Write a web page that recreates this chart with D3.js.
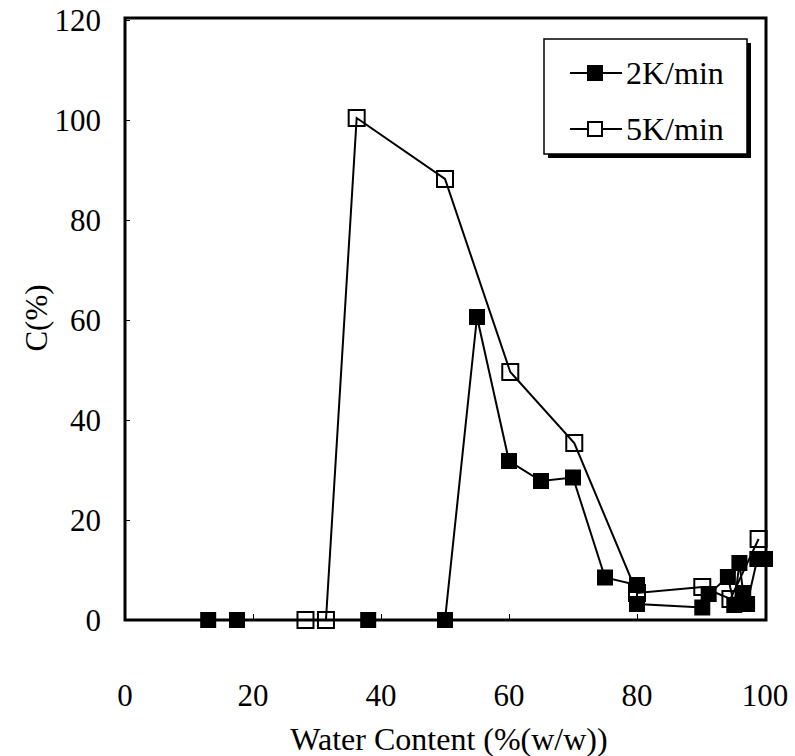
<!DOCTYPE html>
<html>
<head>
<meta charset="utf-8">
<script src="https://cdn.jsdelivr.net/npm/d3@7"></script>
<style>
  body { margin: 0; background: #fff; }
</style>
</head>
<body>
<div id="chart"></div>
<script>
// values
var rate2K = [[13, 0], [17.5, 0], [38, 0], [50, 0], [55, 60.6], [60, 31.8], [65, 27.8], [70, 28.5],
  [75, 8.5], [80, 7.0], [80, 3.2], [90.2, 2.5], [91.2, 5.2], [94.2, 8.6], [95.2, 3.0],
  [96, 11.4], [96.6, 5.4], [97.2, 3.2], [98.8, 12.2], [100, 12.2]];
var rate5K = [[28.2, 0], [31.4, 0], [36.2, 100.4], [50, 88.2], [60.2, 49.6], [70.2, 35.4],
  [80, 5.4], [90.2, 6.6], [94.6, 4.2], [99, 16.2]];
var xTicks = [0, 20, 40, 60, 80, 100];
var yTicks = [0, 20, 40, 60, 80, 100, 120];
var seriesNames = ["2K/min", "5K/min"];

var W = 795, H = 756;
var serif = "'Liberation Serif', 'Times New Roman', Times, serif";
var svg = d3.select("#chart").append("svg").attr("width", W).attr("height", H)
  .attr("font-family", serif);

var x = d3.scaleLinear().domain([0, 100]).range([125, 765]);
var y = d3.scaleLinear().domain([0, 120]).range([620, 20]);

// inner tick marks
svg.append("g").attr("transform", "translate(125,0)")
  .call(d3.axisRight(y).tickValues(yTicks).tickSize(5).tickFormat(""))
  .call(g => g.select(".domain").remove());
svg.append("g").attr("transform", "translate(0,620)")
  .call(d3.axisTop(x).tickValues(xTicks).tickSize(6).tickFormat(""))
  .call(g => g.select(".domain").remove());

// tick labels
svg.append("g").selectAll("text").data(yTicks).join("text")
  .attr("x", 101).attr("y", d => y(d)).attr("dy", "0.35em")
  .attr("text-anchor", "end").style("font-size", "31px").text(d => d);
svg.append("g").selectAll("text").data(xTicks).join("text")
  .attr("x", d => x(d)).attr("y", 695).attr("dy", "0.35em")
  .attr("text-anchor", "middle").style("font-size", "31px").text(d => d);

svg.append("text").attr("transform", "translate(36,318) rotate(-90)")
  .attr("text-anchor", "middle").attr("dy", "0.35em").style("font-size", "31px").text("C(%)");
svg.append("text").attr("x", 449).attr("y", 739).attr("dy", "0.35em")
  .attr("text-anchor", "middle").style("font-size", "32px").text("Water Content (%(w/w))");

var line = d3.line().x(d => x(d[0])).y(d => y(d[1]));

svg.append("path").datum(rate5K).attr("d", line)
  .attr("fill", "none").attr("stroke", "#000").attr("stroke-width", 2);
svg.append("path").datum(rate2K).attr("d", line)
  .attr("fill", "none").attr("stroke", "#000").attr("stroke-width", 2);

var s = 16;
svg.append("g").selectAll("rect").data(rate5K).join("rect")
  .attr("x", d => x(d[0]) - s / 2).attr("y", d => y(d[1]) - s / 2)
  .attr("width", s).attr("height", s)
  .attr("fill", "none").attr("stroke", "#000").attr("stroke-width", 2);
svg.append("g").selectAll("rect").data(rate2K).join("rect")
  .attr("x", d => x(d[0]) - s / 2).attr("y", d => y(d[1]) - s / 2)
  .attr("width", s).attr("height", s).attr("fill", "#000");

// frame
svg.append("rect").attr("x", 125).attr("y", 18).attr("width", 641).attr("height", 602)
  .attr("fill", "none").attr("stroke", "#000").attr("stroke-width", 3);

// legend
var lg = svg.append("g").attr("transform", "translate(544,39)");
lg.append("rect").attr("x", 4).attr("y", 4).attr("width", 203).attr("height", 115).attr("fill", "#000");
lg.append("rect").attr("width", 203).attr("height", 115).attr("fill", "#fff")
  .attr("stroke", "#000").attr("stroke-width", 1.5);
seriesNames.forEach(function(name, i) {
  var ly = 34 + i * 56;
  lg.append("line").attr("x1", 26).attr("x2", 78).attr("y1", ly).attr("y2", ly)
    .attr("stroke", "#000").attr("stroke-width", 2);
  lg.append("rect").attr("x", 51 - s / 2 + 1).attr("y", ly - s / 2 + 1)
    .attr("width", s - 2).attr("height", s - 2)
    .attr("fill", i === 0 ? "#000" : "#fff").attr("stroke", "#000").attr("stroke-width", 2);
  lg.append("text").attr("x", 82).attr("y", ly).attr("dy", "0.35em")
    .style("font-size", "32px").text(name);
});
</script>
</body>
</html>
